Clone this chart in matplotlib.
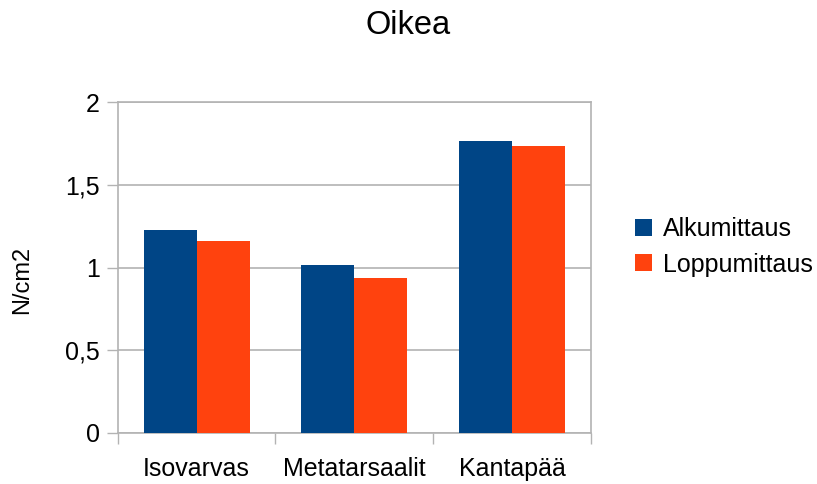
import matplotlib
matplotlib.use("Agg")
import matplotlib.pyplot as plt
import numpy as np

categories = ["Isovarvas", "Metatarsaalit", "Kantapää"]
series_names = ["Alkumittaus", "Loppumittaus"]
alkumittaus = [1.228, 1.016, 1.766]
loppumittaus = [1.161, 0.938, 1.736]
y_ticks = [0, 0.5, 1, 1.5, 2]
y_tick_labels = ["0", "0,5", "1", "1,5", "2"]

colors = ["#004586", "#ff420e"]
grid_color = "#b3b3b3"

plt.rcParams["font.family"] = ["Liberation Sans", "DejaVu Sans"]

fig = plt.figure(figsize=(8.17, 4.84), dpi=100)
ax = fig.add_axes([0.144, 0.1054, 0.5794, 0.6832])

x = np.arange(len(categories))
w = 0.336
ax.bar(x - w / 2, alkumittaus, width=w, color=colors[0], label=series_names[0], zorder=3)
ax.bar(x + w / 2, loppumittaus, width=w, color=colors[1], label=series_names[1], zorder=3)

ax.set_xlim(-0.5, len(categories) - 0.5)
ax.set_ylim(0, 2)
ax.set_yticks(y_ticks)
ax.set_yticklabels(y_tick_labels)
ax.yaxis.grid(True, color=grid_color, linewidth=1.2, zorder=0)
ax.set_axisbelow(True)

ax.set_xticks(x)
ax.set_xticklabels(categories)
ax.set_xticks(np.arange(-0.5, len(categories), 1), minor=True)
ax.tick_params(axis="x", which="major", length=0, pad=17, labelsize=18)
ax.tick_params(axis="x", which="minor", length=8, width=1, color=grid_color)
ax.tick_params(axis="y", length=8, width=1, color=grid_color, pad=5, labelsize=18)

for s in ax.spines.values():
    s.set_color(grid_color)
    s.set_linewidth(1.2)

fig.text(0.5, 0.948, "Oikea", ha="center", va="center", fontsize=23.5)
fig.text(0.027, 1 - 280 / 484, "N/cm2", rotation=90, ha="center", va="center", fontsize=17)

fig.legend(loc="center left", bbox_to_anchor=(0.7625, 0.4898), frameon=False,
           fontsize=18, handlelength=0.65, handleheight=0.65, handletextpad=0.45,
           labelspacing=0.45, borderpad=0)

fig.savefig("out.png", dpi=100)
